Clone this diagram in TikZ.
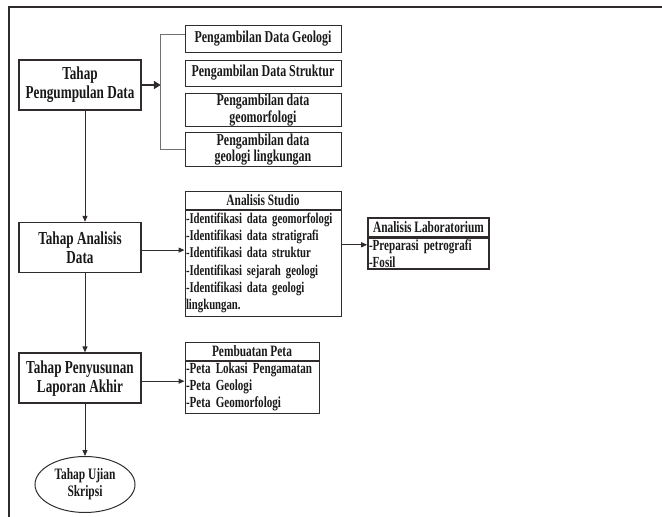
\documentclass[tikz,border=0pt]{standalone}
\usepackage{fontspec}
\setmainfont[FakeStretch=0.72]{Liberation Serif}
\usetikzlibrary{positioning,arrows.meta,shapes.geometric}

\definecolor{linecol}{RGB}{48,44,44}
\definecolor{forkcol}{RGB}{115,112,112}

\tikzset{
  stage/.style={draw=linecol, line width=1.6pt, minimum width=122pt, minimum height=50pt,
    align=center, inner sep=2pt, font=\bfseries\fontsize{18.3}{19}\selectfont},
  getbox/.style={draw=linecol, line width=1pt, minimum width=156pt, align=center,
    inner sep=1pt, font=\bfseries\fontsize{16.6}{16.5}\selectfont},
  headbox/.style={draw=linecol, line width=1pt, align=center, inner sep=1pt,
    font=\bfseries\fontsize{15.8}{17}\selectfont},
  listbox/.style={draw=linecol, line width=1pt, align=left, anchor=north,
    inner xsep=1pt, inner ysep=1pt, font=\bfseries\fontsize{15.4}{17.3}\selectfont,
    execute at begin node={\hyphenpenalty=10000}},
  flow/.style={draw=linecol, line width=1pt, -{Triangle[length=6pt,width=5pt]}},
}

\begin{document}
\begin{tikzpicture}[x=1pt, y=1pt, text=black!90]

  \useasboundingbox (0,0) rectangle (662,-517);
  \draw[linecol, line width=1.2pt] (9,-517) -- (9,-7) -- (662,-7);

  % tahapan utama
  \node[stage] (kumpul) at (80,-85) {Tahap\\Pengumpulan Data};
  \node[stage, below=111pt of kumpul] (analisis) {Tahap Analisis\\Data};
  \node[stage, below=79pt of analisis] (susun) {Tahap Penyusunan\\Laporan Akhir};
  \node[draw=linecol, line width=1pt, ellipse, below=52pt of susun, xshift=5pt,
    minimum width=100pt, minimum height=56pt, inner sep=0pt, align=center,
    font=\bfseries\fontsize{15.9}{17}\selectfont] (ujian) {Tahap Ujian\\Skripsi};

  % pengumpulan data
  \node[getbox, minimum height=27pt] (geo) at (263,-38.5) {Pengambilan Data Geologi};
  \node[getbox, minimum height=26pt, below=7pt of geo] (struk) {Pengambilan Data Struktur};
  \node[getbox, minimum height=33pt, below=6pt of struk] (morf) {Pengambilan data\\geomorfologi};
  \node[getbox, minimum height=34pt, below=5pt of morf] (lingk) {Pengambilan data\\geologi lingkungan};
  \coordinate[right=19pt of kumpul] (fork);

  % analisis
  \node[headbox, minimum width=156pt, minimum height=18pt] (studiohead) at (263,-200) {Analisis Studio};
  \node[listbox, text width=154pt, minimum height=106pt, font=\bfseries\fontsize{14.9}{17.3}\selectfont] (studio) at (studiohead.south)
    {-Identifikasi data geomorfologi\\-Identifikasi data stratigrafi\\-Identifikasi data struktur\\-Identifikasi sejarah geologi\\-Identifikasi data geologi\\lingkungan.};
  \node[headbox, line width=1.6pt, minimum width=121pt, minimum height=19pt] (labhead) at (428.5,-227.5) {Analisis Laboratorium};
  \node[listbox, line width=1.6pt, text width=119pt, minimum height=30pt] (lab) at (labhead.south)
    {-Preparasi petrografi\\-Fosil};

  % penyusunan laporan
  \node[headbox, minimum width=134pt, minimum height=18pt] (petahead) at (252,-351) {Pembuatan Peta};
  \node[listbox, text width=132pt, minimum height=52pt] (peta) at (petahead.south)
    {-Peta Lokasi Pengamatan\\-Peta Geologi\\-Peta Geomorfologi};

  \draw[linecol, line width=2pt, -{Triangle[length=7pt,width=8pt]}] (kumpul.east) -- (fork);
  \draw[forkcol, line width=0.9pt] ([yshift=4pt]geo.west) -| (fork) |- (lingk.west);

  \draw[flow] (kumpul.south -| ujian) -- (analisis.north -| ujian);
  \draw[flow] (analisis.south -| ujian) -- (susun.north -| ujian);
  \draw[flow] (susun.south -| ujian) -- (ujian.north);

  \draw[flow] ([yshift=-2.5pt]analisis.east) -- ([yshift=-2.5pt]analisis.east -| studio.west);
  \coordinate (labin) at ([yshift=-7pt]labhead.south west);
  \draw[flow] (labin -| studio.east) -- (labin);
  \draw[flow] ([yshift=-3pt]susun.east) -- ([yshift=-3pt]susun.east -| petahead.west);

\end{tikzpicture}
\end{document}
